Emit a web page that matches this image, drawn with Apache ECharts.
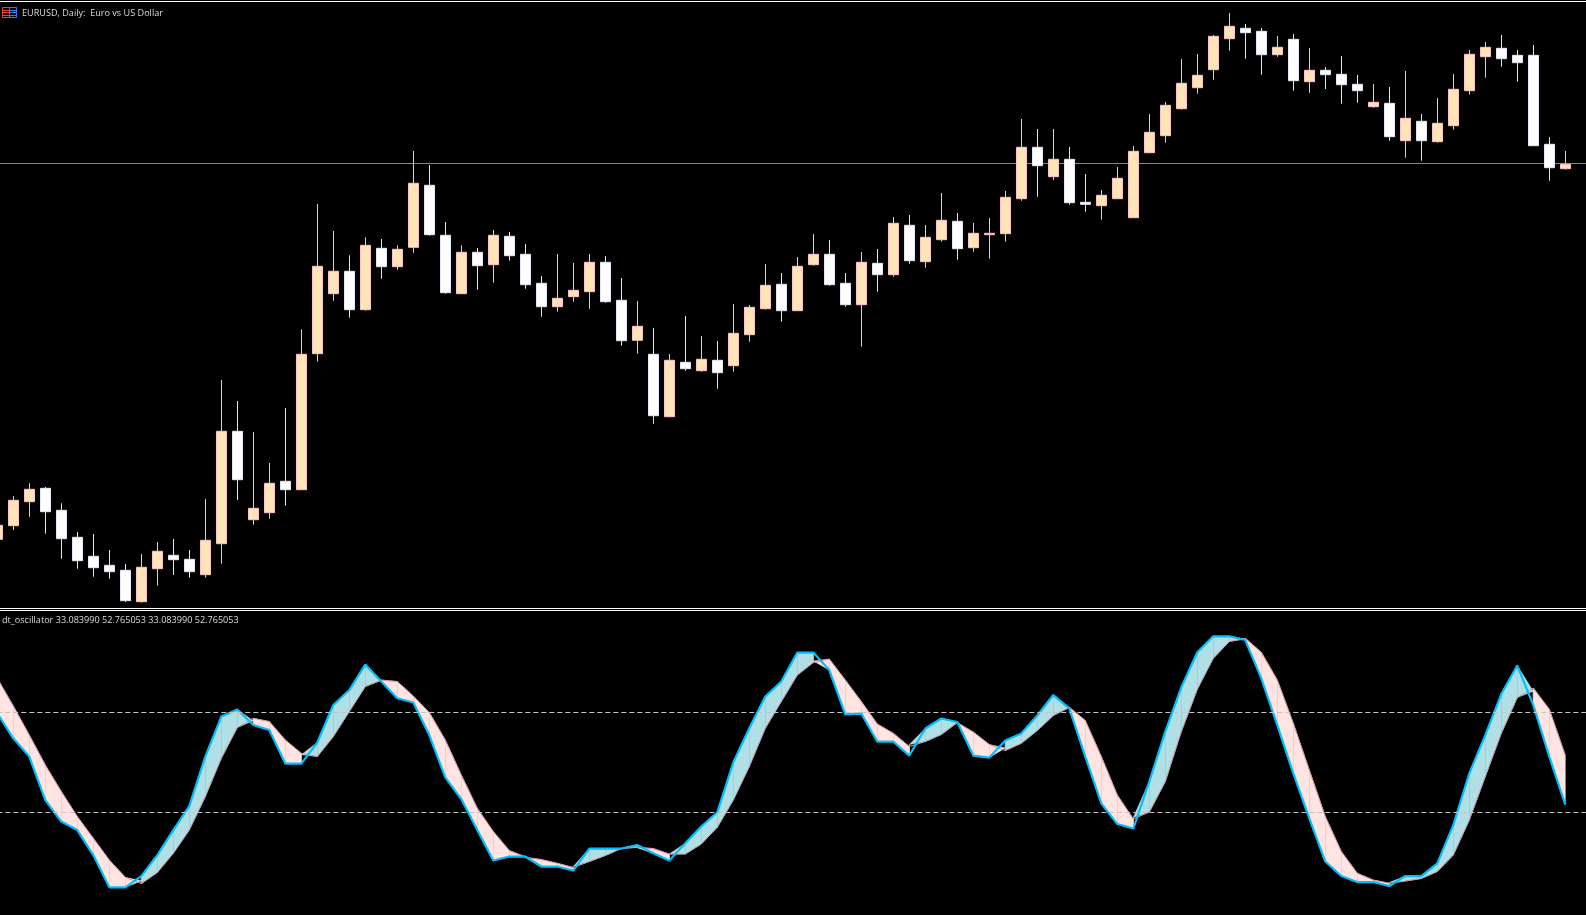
<!DOCTYPE html>
<html>
<head>
<meta charset="utf-8">
<style>html,body{margin:0;padding:0;background:#000;overflow:hidden}#c{width:1586px;height:915px}</style>
<script src="https://cdn.jsdelivr.net/npm/echarts@6/dist/echarts.min.js"></script>
</head>
<body>
<div id="c"></div>
<script>
// Bars on the chart, oldest first; the last entry is the empty slot right of the newest bar.
const categories = Array.from({length: 100}, (_, i) => String(i));

// EURUSD daily candles, in price-pane units
const openPrices = [60.7,74.3,98.3,111.7,89.7,62.7,43.7,34.7,29.7,-1.7,31.3,44.7,40.7,25.3,56.3,168.7,80.3,87.3,118.7,110.3,246.3,306.3,328.7,290.3,351.7,333.3,352.7,414.7,364.7,306.3,347.7,335.3,363.7,345.7,316.7,293.3,303.3,308.3,337.7,299.7,259.7,245.7,183.3,237.7,229.3,239.7,234.3,265.3,291.3,315.7,289.3,335.3,345.7,316.7,295.3,336.7,325.3,374.7,338.3,360.3,378.7,352.3,365.3,366.3,401.3,452.7,423.3,440.7,397.7,394.3,401.3,382.3,447.3,464.3,491.3,512.3,530.3,561.3,571.7,568.7,545.3,560.7,518.3,529.7,525.7,515.7,493.3,496.7,459.3,478.7,458.3,474.3,509.3,543.3,551.7,544.7,544.7,455.7,431.3];
const closePrices = [74.7,99.7,110.7,88.3,61.3,39.3,32.3,28.3,-0.7,32.7,48.7,40.3,28.3,59.7,168.7,120.3,91.7,116.7,110.3,245.7,333.7,328.7,290.3,354.7,333.3,350.7,416.7,365.3,307.3,347.7,334.3,364.7,344.3,315.3,293.3,301.7,309.7,337.7,298.3,259.3,273.7,184.3,239.7,231.3,240.7,227.3,266.7,292.7,314.7,289.3,333.7,345.7,315.3,295.3,337.7,325.3,376.7,339.3,362.7,379.7,351.3,366.7,366.7,402.7,452.7,434.3,440.7,397.3,395.7,404.7,421.7,448.7,467.7,494.7,516.7,524.7,563.7,573.7,567.3,545.3,552.7,519.3,529.7,525.3,515.3,509.3,497.7,463.3,481.7,459.3,476.7,510.7,545.7,552.7,541.3,537.3,454.3,432.3,435.7];
const lowPrices = [60.7,70,83.3,66.3,41.3,31.3,23.3,21.3,-2,-2.7,14.3,25,22.3,22.3,36.3,100,75.3,81.3,94.3,110.3,238.3,299.3,282.3,289.3,321.3,330.3,347.3,364.3,306.3,306.3,310.3,317.3,339.3,311.3,283.3,288.3,298.3,291.3,297.3,254.3,246.3,176.3,183.3,229.3,228.3,211.3,228.3,258.3,290.3,278.3,289.3,334.3,314.3,293.3,253.3,308.3,323.3,336.3,332.3,358.3,340.3,348.3,341.3,358.3,399.3,403.3,420,395.3,388.3,380.3,401.3,382.3,447.3,457.3,490.3,506.3,520.3,549.3,541.3,525.3,543.3,509.3,507.3,511,496.3,497.3,492.3,459.3,442.3,439.3,457.3,470.3,505.3,522.3,533.3,518.3,454.3,419.3,430.3];
const highPrices = [74.7,104,116.7,113,96.7,68,66,50,36,46,58,61,50,101,220,199,168,137,192,270.7,396,369,344.7,362.7,361,354.7,449,435,378,354.7,352,370,368,356,324,346,337,346,344,322,299,272,246,284,264,259,296,295,336,327,343,366,360,327,348,351,383,385,375,407,387,377,382,409,481,471,471,453,426,410,433,454,486,498,541,546,565,587,576,572,564,566,552,533,544,525,516,513,529,486,502,526,550,558,565,550,555,463,449];
const horizontalLevel = [436.7];

// dt_oscillator, two lines on its 0-100 scale
const fastLine = [69.6,59.6,52.3,34.9,26.3,22.9,12.9,0,0,4.5,12.9,22.9,32.5,52.3,68.3,71.1,64.9,62.9,49.5,49.5,57.9,72.9,78.9,89.1,82.3,75.6,73.9,60.9,44,35.3,22.9,10.7,12.3,12.3,8.3,8.3,6.7,15.5,15.5,15.5,16.9,13.6,10.7,17.6,24.3,30,50,63.6,76.3,82.3,93.9,93.9,86.9,69.2,69.5,58.3,58.3,52.7,63.5,67.5,66.1,52.7,51.9,58.7,61.5,68.7,76.9,71.6,52.3,33.6,25.3,23.5,42.3,62.3,80,94,100.4,100.4,98.9,83.6,64.9,45.6,27.6,10.3,4.5,2.1,2.1,0.5,4.5,4.5,9.6,24.9,45.6,60.9,77.3,88.7,72.9,52.3,33.08];
const slowLine = [83.6,72.5,60.9,48.9,38.3,28.3,19.6,10.9,4,1.5,5.9,13.6,22.9,36.3,51.6,63.9,67.6,66.3,58.9,53.6,52.3,60.3,70.3,80.3,82.9,82.3,76.5,69.9,58.9,44.9,31.6,22.3,14.7,12,11.1,9.6,7.9,10.3,12.7,15.5,16,15.5,13.3,13.3,17.3,24,34.9,48.3,63.6,74.3,84.9,89.9,91.3,82.9,74.3,65.3,61.6,56.3,58.3,61.1,65.9,62.1,57.1,54.7,57.6,62.7,68.7,72,66.7,52.3,36.9,27.3,30.1,42.3,62.3,79.2,91.6,98.3,99.6,94,82.9,65.6,46.9,28.3,14.3,5.6,2.9,1.6,2.5,3.5,6.3,12.9,26.9,44.3,61.6,75.9,79.7,71.2,52.77];
const oscillatorLevels = [30, 70];

const chartTitle = 'EURUSD, Daily:  Euro vs US Dollar';
const oscillatorTitle = 'dt_oscillator 33.083990 52.765053 33.083990 52.765053';

const candleData = openPrices.map((o, i) => [o, closePrices[i], lowPrices[i], highPrices[i]]);

function renderFill(params, api) {
  const i = params.dataIndex;
  if (i >= fastLine.length - 1) return null;
  const c0 = fastLine[i], c1 = fastLine[i + 1], p0 = slowLine[i], p1 = slowLine[i + 1];
  const pt = (x, v) => api.coord([x, v]);
  const BLUE = '#b0e0e6', ROSE = '#ffe4e1';
  const poly = (points, color) => ({
    type: 'polygon', shape: {points}, style: {fill: color, stroke: color, lineWidth: 0.5}, silent: true
  });
  const d0 = c0 - p0, d1 = c1 - p1;
  if (d0 * d1 >= 0) {
    const color = (d0 + d1) >= 0 ? BLUE : ROSE;
    return poly([pt(i, c0), pt(i + 1, c1), pt(i + 1, p1), pt(i, p0)], color);
  }
  const t = d0 / (d0 - d1), xc = i + t, vc = c0 + (c1 - c0) * t;
  return {type: 'group', children: [
    poly([pt(i, c0), pt(xc, vc), pt(i, p0)], d0 > 0 ? BLUE : ROSE),
    poly([pt(xc, vc), pt(i + 1, c1), pt(i + 1, p1)], d1 > 0 ? BLUE : ROSE)
  ]};
}

const chart = echarts.init(document.getElementById('c'), null, {renderer: 'canvas'});
const hiddenX = gridIndex => ({type: 'category', gridIndex, data: categories, show: false, boundaryGap: true});
const hline = (x, y, width, fill) => ({type: 'rect', silent: true, shape: {x, y, width, height: 1}, style: {fill}});
chart.setOption({
  animation: false,
  backgroundColor: '#000000',
  title: [
    {text: chartTitle, left: 22, top: 9, padding: 0, textStyle: {color: '#dcdcdc', fontSize: 9.1, fontWeight: 'normal', fontFamily: 'Open Sans'}},
    {text: oscillatorTitle, left: 2, top: 616, padding: 0, textStyle: {color: '#dcdcdc', fontSize: 9.1, fontWeight: 'normal', fontFamily: 'Open Sans'}}
  ],
  grid: [
    {left: -10.7, top: 0, width: 1600, height: 610, outerBoundsMode: 'none'},
    {left: -10.7, top: 612.3, width: 1600, height: 300, outerBoundsMode: 'none'}
  ],
  xAxis: [hiddenX(0), hiddenX(1)],
  yAxis: [
    {type: 'value', gridIndex: 0, min: -10, max: 600, show: false},
    {type: 'value', gridIndex: 1, min: -10, max: 110, show: false}
  ],
  series: [
    {
      type: 'candlestick', xAxisIndex: 0, yAxisIndex: 0, data: candleData, z: 3, barWidth: 10, silent: true,
      clip: false,
      itemStyle: {color: '#ffe4b5', color0: '#ffffff', borderColor: '#ffc0cb', borderColor0: '#e6e6fa', borderWidth: 1},
      markLine: {
        z: 1, silent: true, symbol: 'none', animation: false, label: {show: false},
        lineStyle: {color: '#778899', width: 1, type: 'solid'},
        data: horizontalLevel.map(v => ({yAxis: v}))
      }
    },
    {
      type: 'custom', xAxisIndex: 1, yAxisIndex: 1, z: 1, silent: true, renderItem: renderFill,
      data: fastLine.map((v, i) => [i, v, slowLine[i]]), encode: {x: 0, y: [1, 2]}
    },
    {
      type: 'line', xAxisIndex: 1, yAxisIndex: 1, z: 2, data: slowLine, symbol: 'none', silent: true,
      lineStyle: {color: '#d096aa', width: 1}
    },
    {
      type: 'line', xAxisIndex: 1, yAxisIndex: 1, z: 3, data: fastLine, symbol: 'none', silent: true,
      lineStyle: {color: '#00bfff', width: 2.2},
      markLine: {
        z: 4, silent: true, symbol: 'none', animation: false, label: {show: false},
        lineStyle: {color: '#c4c4c4', width: 1, type: [5, 3]},
        data: oscillatorLevels.map(v => ({yAxis: v}))
      }
    }
  ],
  graphic: [
    hline(0, 1, 1586, '#ffffff'),
    hline(0, 608, 1586, '#ffffff'),
    hline(0, 610, 1586, '#ffffff'),
    {type: 'rect', silent: true, shape: {x: 2.5, y: 7.5, width: 7, height: 10}, style: {fill: 'none', stroke: '#f0402e', lineWidth: 1}},
    {type: 'rect', silent: true, shape: {x: 9.5, y: 7.5, width: 7, height: 10}, style: {fill: 'none', stroke: '#3a7cf5', lineWidth: 1}},
    hline(3, 10, 6, '#f0402e'),
    hline(3, 12, 6, '#f0402e'),
    hline(3, 15, 6, '#f0402e'),
    hline(10, 10, 6, '#3a7cf5'),
    hline(10, 12, 6, '#3a7cf5'),
    hline(10, 15, 6, '#3a7cf5')
  ]
});
</script>
</body>
</html>
